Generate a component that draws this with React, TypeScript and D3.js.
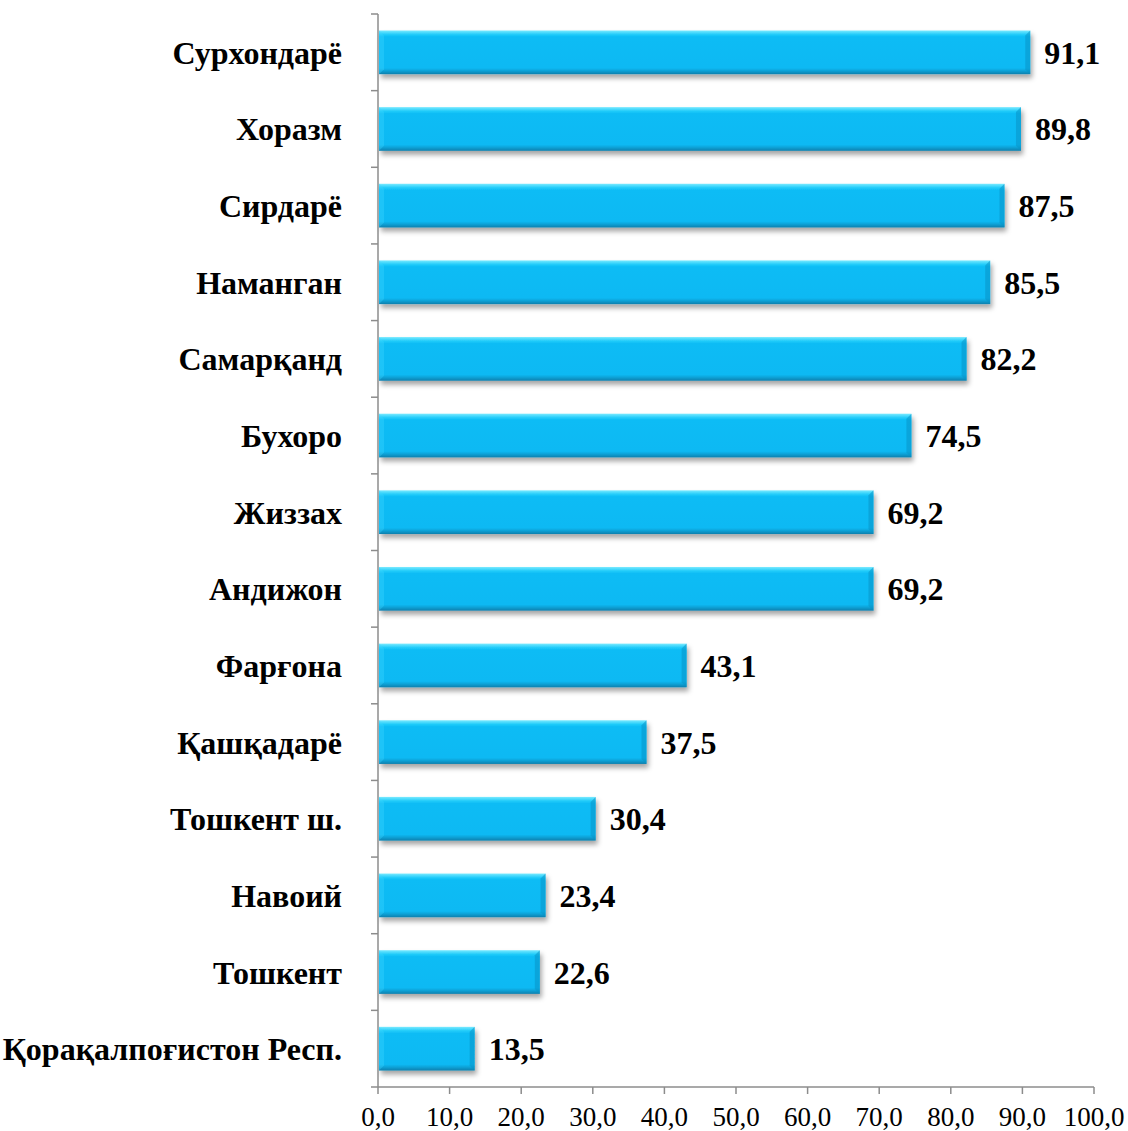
import { useRef, useEffect } from 'react';
import * as d3 from 'd3';

const REGIONS = [
  'Сурхондарё', 'Хоразм', 'Сирдарё', 'Наманган', 'Самарқанд', 'Бухоро', 'Жиззах',
  'Андижон', 'Фарғона', 'Қашқадарё', 'Тошкент ш.', 'Навоий', 'Тошкент', 'Қорақалпоғистон Респ.',
];
const VALUES = [91.1, 89.8, 87.5, 85.5, 82.2, 74.5, 69.2, 69.2, 43.1, 37.5, 30.4, 23.4, 22.6, 13.5];
const X_TICKS = [0, 10, 20, 30, 40, 50, 60, 70, 80, 90, 100];

const FONT = "'Liberation Serif', 'Times New Roman', 'DejaVu Serif', serif";
const fmt = (v: number) => v.toFixed(1).replace('.', ',');

export default function App() {
  const ref = useRef<SVGSVGElement>(null);

  useEffect(() => {
    const svg = ref.current;
    if (!svg) return;
    const W = 1128, H = 1131;
    const padL = 378, padR = 34, padT = 14, padB = 44;

    d3.select(svg).selectAll('*').remove();
    const root = d3.select(svg).attr('width', W).attr('height', H).attr('viewBox', `0 0 ${W} ${H}`);

    const defs = root.append('defs');
    const grad = defs.append('linearGradient').attr('id', 'barGrad').attr('x1', 0).attr('y1', 0).attr('x2', 0).attr('y2', 1);
    grad.append('stop').attr('offset', '0%').attr('stop-color', '#7aeaff');
    grad.append('stop').attr('offset', '9%').attr('stop-color', '#22ccfa');
    grad.append('stop').attr('offset', '15%').attr('stop-color', '#0abcf5');
    grad.append('stop').attr('offset', '86%').attr('stop-color', '#0ab9f3');
    grad.append('stop').attr('offset', '92%').attr('stop-color', '#0aa3d8');
    grad.append('stop').attr('offset', '100%').attr('stop-color', '#0a80ae');
    const shadow = defs.append('filter').attr('id', 'barShadow').attr('x', '-5%').attr('y', '-20%').attr('width', '115%').attr('height', '160%');
    shadow.append('feDropShadow').attr('dx', 2).attr('dy', 4).attr('stdDeviation', 2.5).attr('flood-color', '#000').attr('flood-opacity', 0.35);

    const x = d3.scaleLinear().domain([0, 100]).range([padL, W - padR]);
    const y = d3.scaleBand().domain(REGIONS).range([padT, H - padB]).paddingInner(0.43).paddingOuter(0.215);
    const band = d3.scaleBand().domain(REGIONS).range([padT, H - padB]);

    const g = root.append('g').style('font-family', FONT);
    const axisColor = '#8c8c8c';
    const bottomY = H - padB;

    REGIONS.forEach((r, i) => {
      const v = VALUES[i];
      const by = y(r)!;
      const bh = y.bandwidth();
      const x0 = x(0), x1 = x(v);
      g.append('rect').attr('x', x0 + 1).attr('y', by).attr('width', x1 - x0 - 1).attr('height', bh)
        .attr('fill', 'url(#barGrad)').attr('filter', 'url(#barShadow)');
      g.append('path')
        .attr('d', `M${x1 - 5},${by + 5} L${x1},${by} L${x1},${by + bh} L${x1 - 5},${by + bh - 5} Z`)
        .attr('fill', '#0a93c6').attr('opacity', 0.55);
      g.append('path')
        .attr('d', `M${x0 + 1},${by} L${x0 + 6},${by + 5} L${x0 + 6},${by + bh - 5} L${x0 + 1},${by + bh} Z`)
        .attr('fill', '#3fd6ff').attr('opacity', 0.35);

      g.append('text').attr('x', x1 + 14).attr('y', by + bh / 2).attr('dy', '0.36em')
        .style('font-family', FONT).attr('font-weight', 'bold')
        .attr('font-size', 32).attr('fill', '#000').text(fmt(v));

      g.append('text').attr('x', padL - 36).attr('y', by + bh / 2).attr('dy', '0.36em').attr('text-anchor', 'end')
        .style('font-family', FONT).attr('font-weight', 'bold')
        .attr('font-size', 32).attr('fill', '#000').text(r);
    });

    g.append('line').attr('x1', padL).attr('x2', padL).attr('y1', padT).attr('y2', bottomY)
      .attr('stroke', axisColor).attr('stroke-width', 1.5);
    REGIONS.forEach((r) => {
      const ty = band(r)!;
      g.append('line').attr('x1', padL - 7).attr('x2', padL).attr('y1', ty).attr('y2', ty)
        .attr('stroke', axisColor).attr('stroke-width', 1.5);
    });

    g.append('line').attr('x1', padL - 7).attr('x2', x(100)).attr('y1', bottomY).attr('y2', bottomY)
      .attr('stroke', axisColor).attr('stroke-width', 1.5);
    X_TICKS.forEach((t) => {
      g.append('line').attr('x1', x(t)).attr('x2', x(t)).attr('y1', bottomY).attr('y2', bottomY + 7)
        .attr('stroke', axisColor).attr('stroke-width', 1.5);
      g.append('text').attr('x', x(t)).attr('y', bottomY + 39).attr('text-anchor', 'middle')
        .style('font-family', FONT)
        .attr('font-size', 27).attr('fill', '#000').text(fmt(t));
    });
  }, []);

  return (
    <div style={{ position: 'absolute', left: 0, top: 0, background: '#fff' }}>
      <svg ref={ref} style={{ display: 'block' }} />
    </div>
  );
}
